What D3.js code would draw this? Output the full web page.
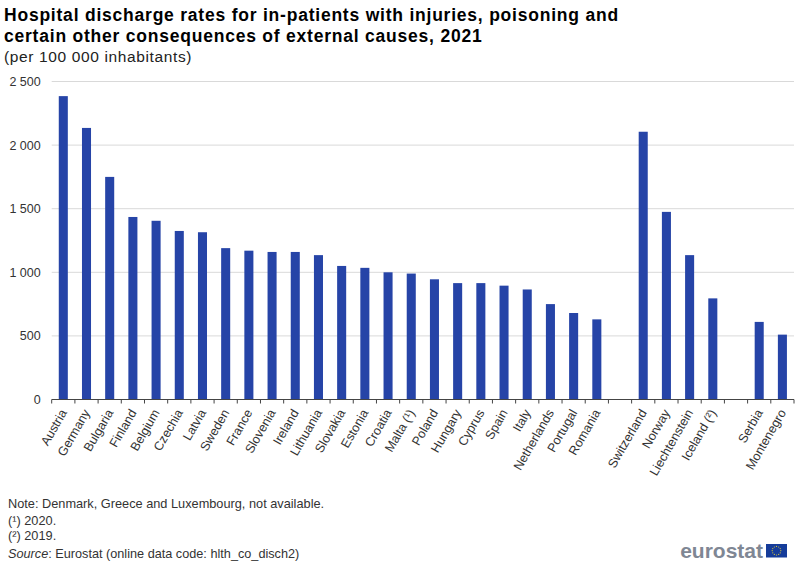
<!DOCTYPE html>
<html>
<head>
<meta charset="utf-8">
<script src="https://cdn.jsdelivr.net/npm/d3@7"></script>
<style>
  html, body { margin: 0; padding: 0; background: #fff; }
  text { font-family: "Liberation Sans", Arial, sans-serif; }
</style>
</head>
<body>
<div id="chart"></div>
<script>
// empty names leave the gaps between the country groups
const categories = ['Austria', 'Germany', 'Bulgaria', 'Finland', 'Belgium', 'Czechia', 'Latvia', 'Sweden',
  'France', 'Slovenia', 'Ireland', 'Lithuania', 'Slovakia', 'Estonia', 'Croatia', 'Malta (¹)', 'Poland',
  'Hungary', 'Cyprus', 'Spain', 'Italy', 'Netherlands', 'Portugal', 'Romania', '',
  'Switzerland', 'Norway', 'Liechtenstein', 'Iceland (²)', ' ', 'Serbia', 'Montenegro'];
const values = [2385, 2135, 1750, 1435, 1405, 1325, 1315, 1190,
  1170, 1160, 1160, 1135, 1050, 1035, 1000, 990, 945,
  915, 915, 895, 865, 750, 680, 630, null,
  2105, 1475, 1135, 795, null, 610, 510];
const yTicks = [0, 500, 1000, 1500, 2000, 2500];
const titleLines = ['Hospital discharge rates for in-patients with injuries, poisoning and',
  'certain other consequences of external causes, 2021'];
const subtitle = '(per 100 000 inhabitants)';
const notes = ['Note: Denmark, Greece and Luxembourg, not available.', '(¹) 2020.', '(²) 2019.'];

const width = 800;
const height = 566;
const margin = { top: 81.5, bottom: 166.5, left: 51.7, right: 6 };

const svg = d3.select('#chart').append('svg')
  .attr('width', width)
  .attr('height', height)
  .style('display', 'block');

// scales
const xScale = d3.scaleBand()
  .domain(categories)
  .range([margin.left, width - margin.right])
  .paddingInner(0.61)
  .paddingOuter(0.305);
const yScale = d3.scaleLinear()
  .domain([0, 2500])
  .range([height - margin.bottom, margin.top]);
const fmt = d => String(d).replace(/\B(?=(\d{3})+$)/, ' ');

// grid
svg.append('g')
  .selectAll('line')
  .data(yTicks.filter(d => d > 0))
  .enter()
  .append('line')
  .attr('x1', margin.left)
  .attr('x2', width - margin.right)
  .attr('y1', d => yScale(d))
  .attr('y2', d => yScale(d))
  .attr('stroke', '#d9d9d9')
  .attr('stroke-width', 1);

// y axis
const yAxis = d3.axisLeft(yScale).tickValues(yTicks).tickFormat(fmt).tickSize(0).tickPadding(11);
const yG = svg.append('g').attr('transform', 'translate(' + margin.left + ',0)').call(yAxis);
yG.select('.domain').remove();
yG.selectAll('text').attr('font-size', '12.5px').attr('fill', '#333').style('font-family', '"Liberation Sans", Arial, sans-serif');

// bars
svg.append('g')
  .selectAll('rect')
  .data(categories.map((c, i) => ({ c, v: values[i] })).filter(d => d.v !== null))
  .enter()
  .append('rect')
  .attr('x', d => xScale(d.c))
  .attr('y', d => yScale(d.v))
  .attr('width', xScale.bandwidth())
  .attr('height', d => yScale(0) - yScale(d.v))
  .attr('fill', '#2644a7');

// x axis
const baseY = yScale(0);
const step = xScale.step();
const xG = svg.append('g');
xG.append('line')
  .attr('x1', margin.left).attr('x2', width - margin.right)
  .attr('y1', baseY).attr('y2', baseY)
  .attr('stroke', '#444');
xG.selectAll('.tick')
  .data(d3.range(categories.length + 1))
  .enter()
  .append('line')
  .attr('class', 'tick')
  .attr('x1', i => margin.left + i * step)
  .attr('x2', i => margin.left + i * step)
  .attr('y1', baseY)
  .attr('y2', baseY + 4)
  .attr('stroke', '#444');
xG.selectAll('.label')
  .data(categories.filter(c => c.trim() !== ''))
  .enter()
  .append('text')
  .attr('class', 'label')
  .attr('text-anchor', 'end')
  .attr('font-size', '12.6px')
  .attr('fill', '#333')
  .attr('transform', d => 'translate(' + (xScale(d) + xScale.bandwidth() / 2 + 4) + ',' + (baseY + 13) + ') rotate(-60)')
  .text(d => d);

// titles
svg.append('g')
  .selectAll('text')
  .data(titleLines)
  .enter()
  .append('text')
  .attr('x', 4)
  .attr('y', (d, i) => 20.5 + i * 21)
  .attr('font-size', '17.5px')
  .attr('font-weight', 'bold')
  .attr('letter-spacing', '0.78px')
  .attr('fill', '#000')
  .text(d => d);
svg.append('text')
  .attr('x', 4).attr('y', 62)
  .attr('font-size', '15.5px')
  .attr('letter-spacing', '0.63px')
  .attr('fill', '#222')
  .text(subtitle);

// notes
svg.append('g')
  .selectAll('text')
  .data(notes)
  .enter()
  .append('text')
  .attr('x', 8)
  .attr('y', (d, i) => [508, 525, 540][i])
  .attr('font-size', '12.75px')
  .attr('fill', '#333')
  .text(d => d);
const src = svg.append('text').attr('x', 8).attr('y', 558).attr('font-size', '12.7px').attr('fill', '#333');
src.append('tspan').attr('font-style', 'italic').text('Source');
src.append('tspan').text(': Eurostat (online data code: hlth_co_disch2)');

// logo
svg.append('text')
  .attr('x', 763).attr('y', 558)
  .attr('text-anchor', 'end')
  .attr('font-size', '21px')
  .attr('font-weight', 'bold')
  .attr('fill', '#7f8794')
  .text('eurostat');
svg.append('rect')
  .attr('x', 766).attr('y', 544).attr('width', 21).attr('height', 13.5)
  .attr('fill', '#153c9a');
svg.append('g')
  .selectAll('circle')
  .data(d3.range(12))
  .enter()
  .append('circle')
  .attr('cx', i => 776.5 + 4.3 * Math.cos(i * Math.PI / 6))
  .attr('cy', i => 550.7 + 4.3 * Math.sin(i * Math.PI / 6))
  .attr('r', 0.6)
  .attr('fill', '#d8c53a');
</script>
</body>
</html>
